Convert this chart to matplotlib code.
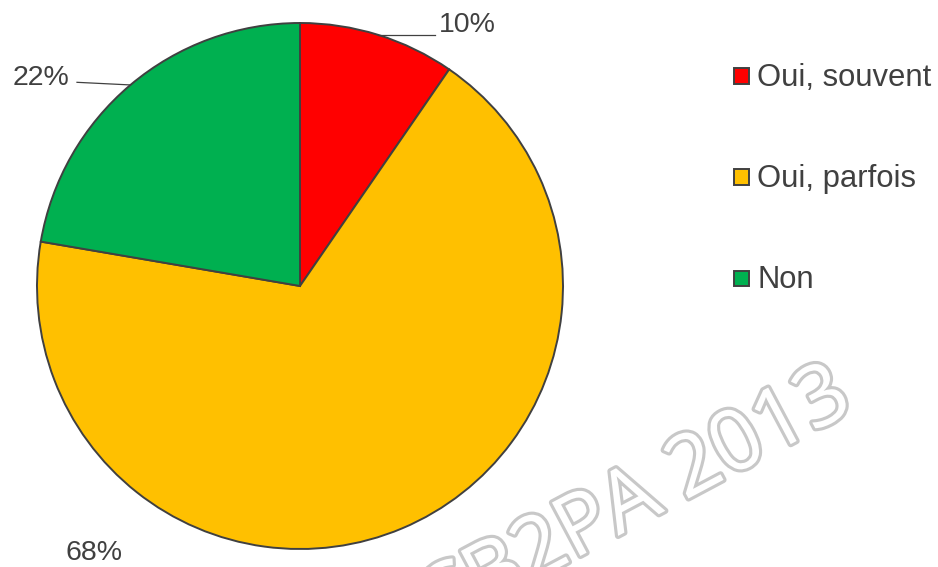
import numpy as np
import matplotlib
matplotlib.use("Agg")
import matplotlib.pyplot as plt
import matplotlib.patheffects as pe
from matplotlib.patches import Rectangle

categories = ["Oui, souvent", "Oui, parfois", "Non"]
values = [9.6, 68.1, 22.3]
colors = ["#FF0000", "#FFC000", "#00B050"]
pct_labels = [f"{v:.0f}%" for v in values]

W, H = 938, 567
fig = plt.figure(figsize=(W / 100, H / 100), dpi=100)
fig.patch.set_facecolor("white")

# pie axes in pixel geometry: center (300,286), radius 263
cx, cy, r = 300, 286, 263
ax = fig.add_axes([(cx - r) / W, (H - cy - r) / H, 2 * r / W, 2 * r / H])
ax.axis("off")

wedges, _ = ax.pie(values, colors=colors, startangle=90, counterclock=False,
                   radius=1.0, wedgeprops=dict(edgecolor="#404040", linewidth=1.4))
ax.set_xlim(-1, 1)
ax.set_ylim(-1, 1)
ax.set_aspect("equal")
for w in wedges:
    w.set_clip_on(False)

def px2d(px, py):
    return ((px - cx) / r, (cy - py) / r)

txtcol = "#404040"
font = "Liberation Sans"
# label layout: (text pixel center, leader end pixel x or None)
label_pos = [((467, 25), 435), ((94, 553), None), ((41, 78), 77)]
for w, lab, (tp, lend) in zip(wedges, pct_labels, label_pos):
    mid = np.deg2rad((w.theta1 + w.theta2) / 2)
    sx, sy = np.cos(mid), np.sin(mid)
    tx, ty = px2d(*tp)
    if lend is not None:
        ex, _ = px2d(lend, 0)
        ey = sy if lend > cx else sy + 0.01
        ax.plot([sx, ex], [sy, ey], color="#404040", lw=0.9, clip_on=False)
    ax.text(tx, ty, lab, ha="center", va="center", fontsize=20.5,
            color=txtcol, family=font, clip_on=False)

# legend
sq = 15
for i, (cat, col) in enumerate(zip(categories, colors)):
    ycen = 76 + i * 101
    fig.patches.append(Rectangle((734 / W, (H - ycen - sq / 2) / H), sq / W, sq / H,
                                 transform=fig.transFigure, facecolor=col,
                                 edgecolor="#404040", linewidth=1.4))
    fig.text(757 / W, (H - ycen - 10) / H, cat, ha="left", va="baseline",
             fontsize=22.3, color=txtcol, family=font)

# watermark
fig.text(635 / W, 1 - 502 / H, "CB2PA 2013", rotation=28, ha="center", va="center",
         fontsize=61, color="white", family="Open Sans",
         path_effects=[pe.withStroke(linewidth=4.5, foreground="#c8c8c8")], zorder=10)

fig.savefig("out.png", dpi=100, facecolor="white")
